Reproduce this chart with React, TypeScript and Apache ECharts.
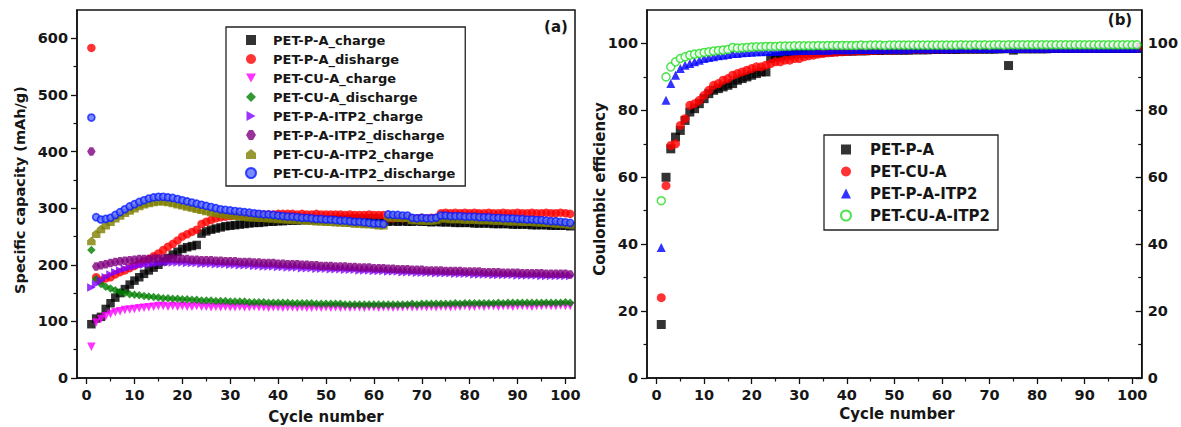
import React, { useEffect, useRef } from "react";
import * as echarts from "echarts";

// ---------- data ----------
const cycles = Array.from({ length: 101 }, (_, i) => i + 1);

const xTicks = [0, 10, 20, 30, 40, 50, 60, 70, 80, 90, 100];
const xMinorTicks = [5, 15, 25, 35, 45, 55, 65, 75, 85, 95];
const capTicks = [0, 100, 200, 300, 400, 500, 600];
const capMinorTicks = [50, 150, 250, 350, 450, 550];
const ceTicks = [0, 20, 40, 60, 80, 100];
const ceMinorTicks = [10, 30, 50, 70, 90];

// Panel (a): specific capacity (mAh/g)
const petPA_charge = [
  95, 105, 108, 122, 132, 142, 150, 157, 165, 172,
  178, 184, 190, 195, 200, 206, 212, 218, 223, 228,
  231, 233, 235, 255, 259, 262, 264, 266, 268, 269,
  270, 271, 272, 273, 274, 274, 275, 276, 276, 277,
  277, 278, 278, 278, 279, 279, 279, 280, 280, 280,
  280, 281, 281, 281, 281, 282, 282, 282, 282, 282,
  282, 276, 276, 277, 276, 277, 276, 276, 277, 276,
  276, 275, 276, 275, 275, 275, 274, 274, 274, 274,
  273, 273, 273, 273, 272, 272, 272, 272, 271, 271,
  271, 271, 270, 270, 270, 270, 269, 269, 269, 269,
  268,
];
const petPA_discharge = [
  583, 178, 172, 176, 178, 183, 187, 190, 194, 198,
  202, 206, 210, 215, 220, 226, 232, 237, 243, 250,
  254, 258, 262, 272, 276, 279, 282, 284, 285, 286,
  287, 287, 288, 288, 288, 289, 289, 289, 289, 290,
  290, 290, 290, 289, 290, 289, 289, 290, 289, 289,
  289, 289, 289, 288, 289, 288, 288, 288, 289, 288,
  288, 288, 282, 282, 283, 282, 283, 282, 282, 283,
  282, 283, 283, 291, 292, 291, 292, 291, 292, 291,
  292, 291, 291, 292, 291, 291, 292, 291, 291, 292,
  291, 291, 292, 291, 291, 292, 291, 291, 292, 291,
  290,
];
const petCUA_charge = [
  55, 98, 104, 109, 113, 116, 118, 120, 121, 122,
  123, 124, 125, 126, 127, 127, 126, 127, 126, 127,
  126, 126, 127, 126, 126, 125, 126, 125, 126, 125,
  125, 126, 125, 125, 126, 125, 125, 124, 125, 125,
  124, 125, 125, 124, 125, 124, 124, 125, 124, 125,
  124, 125, 124, 125, 124, 125, 125, 124, 125, 125,
  124, 125, 125, 124, 125, 125, 126, 125, 125, 126,
  125, 126, 125, 126, 126, 125, 126, 126, 127, 126,
  126, 127, 126, 127, 127, 126, 127, 127, 126, 127,
  127, 127, 126, 127, 127, 128, 127, 127, 128, 127,
  127,
];
const petCUA_discharge = [
  226, 175, 166, 161, 158, 155, 152, 150, 148, 147,
  146, 145, 144, 143, 142, 141, 141, 140, 140, 139,
  139, 138, 138, 137, 137, 137, 136, 136, 136, 135,
  135, 135, 135, 134, 134, 134, 134, 133, 133, 133,
  133, 133, 132, 132, 132, 132, 132, 131, 131, 131,
  131, 131, 131, 130, 130, 130, 130, 130, 130, 130,
  130, 130, 130, 130, 130, 130, 130, 131, 130, 131,
  131, 131, 131, 131, 131, 131, 132, 131, 132, 132,
  132, 132, 132, 132, 132, 133, 132, 133, 133, 133,
  133, 133, 133, 133, 133, 133, 133, 133, 133, 134,
  133,
];
const petPAITP2_charge = [
  160, 166, 172, 178, 183, 187, 190, 193, 195, 197,
  199, 200, 201, 202, 203, 204, 204, 204, 204, 204,
  203, 203, 203, 202, 202, 202, 201, 201, 201, 200,
  200, 199, 199, 199, 198, 198, 197, 197, 197, 196,
  196, 195, 195, 195, 194, 194, 194, 193, 193, 193,
  192, 192, 192, 191, 191, 191, 190, 190, 190, 189,
  189, 189, 188, 188, 188, 187, 187, 187, 186, 186,
  186, 186, 185, 185, 185, 185, 184, 184, 184, 184,
  183, 183, 183, 183, 182, 182, 182, 182, 182, 181,
  181, 181, 181, 181, 180, 180, 180, 180, 180, 180,
  180,
];
const petPAITP2_discharge = [
  400, 197, 199, 201, 203, 205, 206, 207, 208, 209,
  210, 210, 210, 211, 211, 211, 211, 211, 210, 210,
  210, 209, 209, 208, 208, 208, 207, 207, 206, 206,
  206, 205, 205, 205, 204, 204, 203, 203, 203, 202,
  202, 201, 201, 201, 200, 200, 199, 199, 198, 198,
  198, 197, 197, 197, 196, 196, 195, 195, 195, 194,
  194, 194, 193, 193, 192, 192, 192, 191, 191, 191,
  190, 190, 190, 190, 189, 189, 189, 189, 188, 188,
  188, 188, 187, 187, 187, 187, 186, 186, 186, 186,
  185, 185, 185, 185, 185, 184, 184, 184, 184, 184,
  183,
];
const petCUAITP2_charge = [
  242, 255, 263, 270, 276, 282, 287, 292, 296, 300,
  304, 307, 309, 311, 312, 312, 311, 309, 307, 305,
  303, 301, 299, 297, 295, 293, 292, 290, 289, 288,
  287, 286, 285, 284, 284, 283, 283, 282, 282, 281,
  281, 280, 280, 279, 279, 278, 278, 277, 277, 276,
  276, 275, 275, 274, 274, 273, 273, 272, 272, 271,
  270, 270, 284, 284, 283, 283, 283, 279, 279, 278,
  278, 278, 279, 282, 282, 281, 281, 281, 280, 280,
  280, 279, 279, 279, 278, 278, 278, 277, 277, 277,
  276, 276, 276, 275, 275, 274, 274, 273, 273, 272,
  271,
];
const petCUAITP2_discharge = [
  460, 284, 280, 281, 283, 288, 293, 298, 303, 307,
  311, 314, 317, 319, 320, 320, 319, 318, 316, 314,
  312, 310, 308, 306, 304, 302, 300, 298, 297, 296,
  295, 294, 293, 292, 291, 290, 289, 289, 288, 287,
  286, 285, 285, 284, 283, 283, 282, 281, 281, 280,
  280, 279, 278, 278, 277, 276, 276, 275, 274, 273,
  273, 272, 289, 288, 288, 287, 287, 283, 282, 283,
  282, 282, 283, 287, 287, 286, 286, 286, 285, 285,
  285, 284, 284, 284, 283, 283, 282, 282, 282, 281,
  281, 280, 280, 279, 279, 278, 277, 277, 276, 275,
  274,
];

// Panel (b): coulombic efficiency (%)
const cePA = [
  16, 60, 68.5, 72, 74, 77, 79.5, 80.5, 82, 83.5,
  85, 86, 86.5, 87, 87.5, 88, 89, 89.5, 90, 90.5,
  91, 91.5, 91.5, 95.5, 96, 96, 96.5, 96.5, 96.8, 97,
  97, 97.2, 97.2, 97.3, 97.4, 97.5, 97.5, 97.6, 97.6, 97.7,
  97.7, 97.8, 97.8, 97.8, 97.9, 97.9, 97.9, 98, 98, 98,
  98, 98, 98, 98.1, 98.1, 98.1, 98.1, 98.2, 98.2, 98.2,
  98.2, 98.2, 98.2, 98.3, 98.3, 98.3, 98.3, 98.3, 98.3, 98.3,
  98.3, 98.4, 98.4, 93.4, 98, 98.4, 98.4, 98.4, 98.4, 98.4,
  98.4, 98.4, 98.5, 98.5, 98.5, 98.5, 98.5, 98.5, 98.5, 98.5,
  98.5, 98.5, 98.5, 98.5, 98.5, 98.5, 98.5, 98.5, 98.5, 98.5,
  98.5,
];
const ceCUA = [
  24, 57.5, 69.5, 70, 75.5, 77.5, 81.5, 82, 83, 84.5,
  86, 87.5, 88, 89, 89.5, 90.5, 91, 91.5, 92, 92.5,
  93, 93, 93.5, 94, 94.5, 94.5, 95, 95, 95.5, 95.5,
  96, 96.3, 96.5, 96.8, 97, 97.2, 97.3, 97.4, 97.5, 97.6,
  97.7, 97.7, 97.8, 97.8, 97.9, 97.9, 98, 98, 98, 98,
  98.1, 98.1, 98.1, 98.2, 98.2, 98.2, 98.2, 98.3, 98.3, 98.3,
  98.3, 98.3, 98.4, 98.4, 98.4, 98.4, 98.4, 98.4, 98.5, 98.5,
  98.5, 98.5, 98.5, 98.5, 98.5, 98.5, 98.5, 98.5, 98.6, 98.6,
  98.6, 98.6, 98.6, 98.6, 98.6, 98.6, 98.6, 98.6, 98.6, 98.6,
  98.6, 98.6, 98.7, 98.7, 98.7, 98.7, 98.7, 98.7, 98.7, 98.7,
  98.7,
];
const cePAITP2 = [
  39, 83, 88, 90.5, 92.5, 93.5, 94, 94.5, 95, 95.5,
  95.8, 96, 96.3, 96.5, 96.7, 97, 97, 97.2, 97.3, 97.4,
  97.5, 97.5, 97.6, 97.6, 97.7, 97.7, 97.8, 97.8, 97.8, 97.9,
  97.9, 97.9, 98, 98, 98, 98, 98.1, 98.1, 98.1, 98.1,
  98.1, 98.2, 98.2, 98.2, 98.2, 98.2, 98.3, 98.3, 98.3, 98.3,
  98.3, 98.3, 98.3, 98.4, 98.4, 98.4, 98.4, 98.4, 98.4, 98.4,
  98.4, 98.4, 98.5, 98.5, 98.5, 98.5, 98.5, 98.5, 98.5, 98.5,
  98.5, 98.5, 98.5, 98.5, 98.5, 98.5, 98.6, 98.6, 98.6, 98.6,
  98.6, 98.6, 98.6, 98.6, 98.6, 98.6, 98.6, 98.6, 98.6, 98.6,
  98.6, 98.6, 98.6, 98.6, 98.6, 98.6, 98.6, 98.6, 98.6, 98.6,
  98.6,
];
const ceCUAITP2 = [
  53, 90, 93, 94.5, 95.5, 96, 96.5, 96.8, 97, 97.3,
  97.5, 97.7, 97.9, 98, 98.2, 98.8, 98.6, 98.7, 98.8, 98.9,
  99, 99, 99.1, 99.1, 99.1, 99.2, 99.2, 99.2, 99.3, 99.3,
  99.3, 99.3, 99.3, 99.4, 99.3, 99.4, 99.4, 99.4, 99.4, 99.4,
  99.4, 99.4, 99.5, 99.4, 99.5, 99.5, 99.5, 99.4, 99.5, 99.5,
  99.5, 99.5, 99.5, 99.5, 99.5, 99.5, 99.5, 99.5, 99.5, 99.5,
  99.5, 99.5, 99.5, 99.6, 99.5, 99.5, 99.6, 99.5, 99.6, 99.5,
  99.6, 99.6, 99.5, 99.6, 99.6, 99.6, 99.6, 99.6, 99.6, 99.6,
  99.6, 99.6, 99.6, 99.6, 99.6, 99.6, 99.6, 99.6, 99.6, 99.6,
  99.6, 99.6, 99.6, 99.6, 99.6, 99.6, 99.6, 99.6, 99.6, 99.6,
  99.6,
];

// ---------- styling ----------
const FONT = "DejaVu Sans";
const TXT = "#161616";

const SYM_DOWN = "path://M0,0 L10,0 L5,9 Z";
const SYM_RIGHT = "path://M0,0 L9,5 L0,10 Z";
const SYM_HEX = "path://M3,0 L7,0 L10,5 L7,10 L3,10 L0,5 Z";
const SYM_HOUSE = "path://M5,0 L10,4 L10,10 L0,10 L0,4 Z";

const panelA = [
  { name: "PET-P-A_charge", data: petPA_charge, symbol: "rect", color: "#000000" },
  { name: "PET-P-A_disharge", data: petPA_discharge, symbol: "circle", color: "#ff0000" },
  { name: "PET-CU-A_charge", data: petCUA_charge, symbol: SYM_DOWN, color: "#ff00ff" },
  { name: "PET-CU-A_discharge", data: petCUA_discharge, symbol: "diamond", color: "#008000" },
  { name: "PET-P-A-ITP2_charge", data: petPAITP2_charge, symbol: SYM_RIGHT, color: "#8000ff" },
  { name: "PET-P-A-ITP2_discharge", data: petPAITP2_discharge, symbol: SYM_HEX, color: "#800080" },
  { name: "PET-CU-A-ITP2_charge", data: petCUAITP2_charge, symbol: SYM_HOUSE, color: "#808000" },
  { name: "PET-CU-A-ITP2_discharge", data: petCUAITP2_discharge, symbol: "circle", color: "#1f35ff" },
];

const panelB = [
  { name: "PET-P-A", data: cePA, symbol: "rect", color: "#000000" },
  { name: "PET-CU-A", data: ceCUA, symbol: "circle", color: "#ff0000" },
  { name: "PET-P-A-ITP2", data: cePAITP2, symbol: "triangle", color: "#0000ff" },
  { name: "PET-CU-A-ITP2", data: ceCUAITP2, symbol: "circle", color: "#ffffff", border: "#22dd22" },
];

const labelStyle = { fontFamily: FONT, fontWeight: "bold" as const, fontSize: 14.5, color: TXT };

function mainAxis(gridIndex: number, min: number, max: number, ticks: number[], extra: any = {}) {
  return {
    type: "value",
    gridIndex,
    min,
    max,
    axisLine: { show: true, onZero: false, lineStyle: { color: "#111", width: 1.5 } },
    axisTick: { show: true, length: 6, inside: false, customValues: ticks, lineStyle: { color: "#111", width: 1.3 } },
    axisLabel: { show: true, customValues: ticks, margin: 9, ...labelStyle },
    splitLine: { show: false },
    ...extra,
  };
}
function minorAxis(gridIndex: number, min: number, max: number, ticks: number[], extra: any = {}) {
  return {
    type: "value",
    gridIndex,
    min,
    max,
    axisLine: { show: false, onZero: false },
    axisTick: { show: true, length: 3.5, inside: false, customValues: ticks, lineStyle: { color: "#111", width: 1.2 } },
    axisLabel: { show: false },
    splitLine: { show: false },
    ...extra,
  };
}

export default function App() {
  const ref = useRef<HTMLDivElement>(null);

  useEffect(() => {
    if (!ref.current) return;
    const chart = echarts.init(ref.current, undefined, { renderer: "svg" });

    const seriesA = panelA.map((s) => ({
      type: "scatter",
      name: s.name,
      xAxisIndex: 0,
      yAxisIndex: 0,
      symbol: s.symbol,
      symbolSize: s.name === "PET-CU-A-ITP2_discharge" ? 7 : 8.5,
      data: s.data.map((v, i) => [cycles[i], v]),
      itemStyle:
        s.name === "PET-CU-A-ITP2_discharge"
          ? { color: "#5b6cff", borderColor: "#0a1eff", borderWidth: 1.6 }
          : { color: s.color },
      emphasis: { disabled: true },
    }));
    const seriesB = panelB.map((s) => ({
      type: "scatter",
      name: s.name,
      xAxisIndex: 2,
      yAxisIndex: 2,
      symbol: s.symbol,
      symbolSize: s.border ? 8 : 9,
      data: s.data.map((v, i) => [cycles[i], v]),
      itemStyle: s.border
        ? { color: s.color, borderColor: s.border, borderWidth: 1.5 }
        : { color: s.color },
      emphasis: { disabled: true },
    }));

    const legendText = (size: number, lh: number, padLeft: number) => ({
      fontFamily: FONT,
      fontWeight: "bold",
      fontSize: size,
      lineHeight: lh,
      color: TXT,
      padding: [0, 0, 0, padLeft],
    });

    chart.setOption({
      animation: false,
      backgroundColor: "#ffffff",
      grid: [
        { left: 77, top: 10, width: 498, height: 368, show: true, borderColor: "#111", borderWidth: 1.5, containLabel: false },
        { left: 647, top: 10, width: 499, height: 368, show: true, borderColor: "#111", borderWidth: 1.5, containLabel: false },
      ],
      xAxis: [
        mainAxis(0, -2, 102, xTicks, { position: "bottom" }),
        minorAxis(0, -2, 102, xMinorTicks, { position: "bottom" }),
        mainAxis(1, -2, 102, xTicks, { position: "bottom" }),
        minorAxis(1, -2, 102, xMinorTicks, { position: "bottom" }),
      ],
      yAxis: [
        mainAxis(0, 0, 650, capTicks, { position: "left" }),
        minorAxis(0, 0, 650, capMinorTicks, { position: "left" }),
        mainAxis(1, 0, 110, ceTicks, { position: "left" }),
        minorAxis(1, 0, 110, ceMinorTicks, { position: "left" }),
        mainAxis(1, 0, 110, ceTicks, {
          position: "right",
          axisTick: { show: true, length: 6, inside: true, customValues: ceTicks, lineStyle: { color: "#111", width: 1.3 } },
          axisLabel: { show: true, customValues: ceTicks, margin: 6, ...labelStyle },
        }),
        minorAxis(1, 0, 110, ceMinorTicks, {
          position: "right",
          axisTick: { show: true, length: 3.5, inside: true, customValues: ceMinorTicks, lineStyle: { color: "#111", width: 1.2 } },
        }),
      ],
      legend: [
        {
          data: panelA.map((s) => s.name),
          orient: "vertical",
          left: 226,
          top: 27,
          padding: [5, 10, 5, 19],
          itemWidth: 10,
          itemHeight: 10,
          itemGap: 3,
          selectedMode: false,
          backgroundColor: "#ffffff",
          borderColor: "#222",
          borderWidth: 1.3,
          borderRadius: 0,
          textStyle: legendText(13, 16, 12),
        },
        {
          data: panelB.map((s) => s.name),
          orient: "vertical",
          left: 824,
          top: 135,
          padding: [6, 8, 6, 16],
          itemWidth: 10,
          itemHeight: 10,
          itemGap: 5,
          selectedMode: false,
          backgroundColor: "#ffffff",
          borderColor: "#222",
          borderWidth: 1.3,
          borderRadius: 0,
          textStyle: legendText(15, 17, 14),
        },
      ],
      graphic: [
        {
          type: "text",
          x: 20,
          y: 190,
          rotation: Math.PI / 2,
          style: { text: "Specific capacity (mAh/g)", font: `bold 14.5px "${FONT}"`, fill: TXT, textAlign: "center", textVerticalAlign: "middle", align: "center", verticalAlign: "middle" },
        },
        {
          type: "text",
          x: 326,
          y: 417,
          style: { text: "Cycle number", font: `bold 15px "${FONT}"`, fill: TXT, textAlign: "center", textVerticalAlign: "middle", align: "center", verticalAlign: "middle" },
        },
        {
          type: "text",
          x: 556,
          y: 27,
          style: { text: "(a)", font: `bold 15px "${FONT}"`, fill: TXT, textAlign: "center", textVerticalAlign: "middle", align: "center", verticalAlign: "middle" },
        },
        {
          type: "text",
          x: 600,
          y: 189,
          rotation: Math.PI / 2,
          style: { text: "Coulombic efficiency", font: `bold 15px "${FONT}"`, fill: TXT, textAlign: "center", textVerticalAlign: "middle", align: "center", verticalAlign: "middle" },
        },
        {
          type: "text",
          x: 897,
          y: 414,
          style: { text: "Cycle number", font: `bold 15px "${FONT}"`, fill: TXT, textAlign: "center", textVerticalAlign: "middle", align: "center", verticalAlign: "middle" },
        },
        {
          type: "text",
          x: 1120,
          y: 20,
          style: { text: "(b)", font: `bold 15px "${FONT}"`, fill: TXT, textAlign: "center", textVerticalAlign: "middle", align: "center", verticalAlign: "middle" },
        },
      ],
      series: [...seriesA, ...seriesB],
    });

    return () => chart.dispose();
  }, []);

  return (
    <div
      ref={ref}
      style={{ position: "absolute", left: 0, top: 0, width: 1181, height: 427, background: "#fff" }}
    />
  );
}
